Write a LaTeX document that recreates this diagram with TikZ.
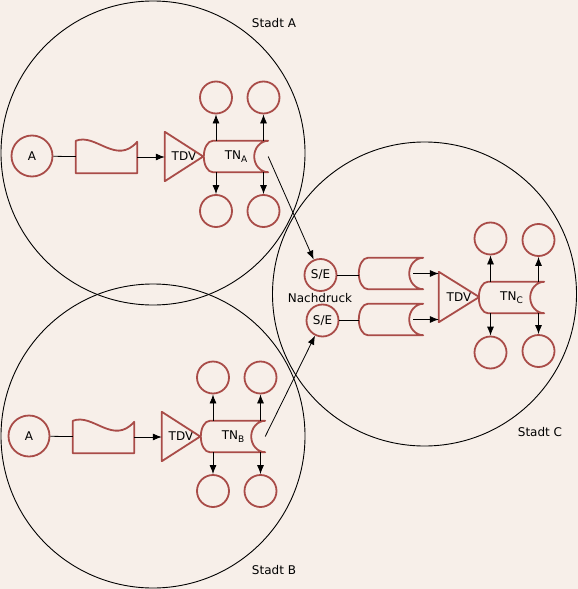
\documentclass[tikz,border=0pt]{standalone}
\usepackage{fontspec}
\setmainfont{DejaVu Sans}
\usepackage{tikz}
\usetikzlibrary{arrows.meta,positioning}
\definecolor{bgpeach}{HTML}{F7EFE9}
\definecolor{tnred}{HTML}{A94C48}

% outlines drawn round plain (invisible) nodes
\newcommand{\tnshape}[1]{%
  \draw[tnline] ([xshift=9pt]#1.north west) .. controls +(-5,0) and +(0,-8.6) .. (#1.west)
    .. controls +(0,8.6) and +(-5,0) .. ([xshift=9pt]#1.south west) -- (#1.south east)
    .. controls +(-7.7,0) and +(0,8.6) .. ([xshift=-14pt]#1.east)
    .. controls +(0,-8.6) and +(-7.7,0) .. (#1.north east) -- cycle;}
\newcommand{\docshape}[1]{%
  \draw[tnline] (#1.north west) .. controls +(20,-8) and +(-21,24) .. ([yshift=-1pt]#1.north east)
    -- (#1.south east) -- (#1.south west) -- cycle;}
\newcommand{\tdvshape}[1]{%
  \draw[tnline] (#1.north west) -- (#1.east) -- (#1.south west) -- cycle;}
\newcommand{\tnsub}[1]{\raisebox{-3pt}{\fontsize{9}{9}\selectfont #1}}

\begin{document}
\begin{tikzpicture}[x=1pt, y=-1pt,
  every node/.style={font=\fontsize{12}{14}\selectfont, inner sep=0pt},
  city/.style={draw, circle, line width=0.9pt, minimum size=304pt},
  tnline/.style={draw=tnred, line width=1.8pt, line join=round},
  ring/.style={draw=tnred, circle, line width=1.8pt, minimum size=32pt},
  src/.style={ring, minimum size=41pt},
  tnbox/.style={minimum width=64pt, minimum height=31pt},
  docbox/.style={minimum width=61pt, minimum height=32pt},
  tdvbox/.style={minimum width=38pt, minimum height=49pt},
  link/.style={line width=0.8pt},
  flow/.style={link, -{Latex[length=9pt,width=7pt]}}]
  \fill[bgpeach] (0,0) rectangle (578,589);
  \useasboundingbox (0,0) rectangle (578,589);

  % the three towns
  \node[city] (cityA) at (153,153) {};
  \node[city] (cityB) at (153,436) {};
  \node[city] (cityC) at (424.5,294) {};
  \node (labA) at (274,23) {Stadt A};
  \node (labB) at (274,570) {Stadt B};
  \node (labC) at (540,432) {Stadt C};

  % towns A and B: source, document, TDV, TN and four outputs
  \foreach \r/\dx/\dy in {A/0/0, B/-3/280} {
    \begin{scope}[shift={(\dx,\dy)}]
      \node[src] (src\r) at (32,156) {A};
      \node[docbox] (doc\r) at (106.5,157) {};
      \node[tdvbox] (tdv\r) at (184,156.5) {TDV};
      \node[tnbox] (tn\r) at (236,156.5) {TN\tnsub{\r}};
      \node[ring] (o\r1) at (216,97.5) {};
      \node[ring] (o\r2) at (263.5,97.5) {};
      \node[ring] (o\r3) at (216,211) {};
      \node[ring] (o\r4) at (263.5,211) {};
    \end{scope}
    \docshape{doc\r}
    \tdvshape{tdv\r}
    \tnshape{tn\r}
    \draw[link] (src\r) -- (doc\r);
    \draw[flow] (doc\r.east) -- (doc\r.east -| tdv\r.west);
    \foreach \o in {1,2} \draw[flow] (o\r\o |- tn\r.north) -- (o\r\o.south);
    \foreach \o in {3,4} \draw[flow] (o\r\o |- tn\r.south) -- (o\r\o.north);
  }

  % town C: reprint
  \node[ring] (seC1) at (320.5,275) {S/E};
  \node[ring] (seC2) at (322.5,320.5) {S/E};
  \node (reprint) at (320,298) {Nachdruck};
  \node[tnbox] (sdC1) at (391,273.5) {};
  \node[tnbox] (sdC2) at (391,319.5) {};
  \node[tdvbox, minimum width=40pt, minimum height=50pt] (tdvC) at (459,297) {TDV};
  \node[tnbox, minimum width=65pt] (tnC) at (511.5,297.5) {TN\tnsub{C}};
  \node[ring] (oC1) at (490.5,238.5) {};
  \node[ring] (oC2) at (538.5,240) {};
  \node[ring] (oC3) at (490.5,352.5) {};
  \node[ring] (oC4) at (538.5,351) {};
  \tnshape{sdC1}
  \tnshape{sdC2}
  \tdvshape{tdvC}
  \tnshape{tnC}
  \draw[link] (seC1) -- (seC1 -| sdC1.west);
  \draw[link] (seC2) -- (seC2 -| sdC2.west);
  \draw[flow] ([xshift=-10pt]sdC1.east) -- (sdC1.east -| tdvC.west);
  \draw[flow] ([xshift=-10pt]sdC2.east) -- (sdC2.east -| tdvC.west);
  \foreach \o in {1,2} \draw[flow] (oC\o |- tnC.north) -- (oC\o.south);
  \foreach \o in {3,4} \draw[flow] (oC\o |- tnC.south) -- (oC\o.north);

  % links between the towns
  \draw[flow] (tnA.east) -- (seC1);
  \draw[flow] (tnB.east) -- (seC2);
\end{tikzpicture}
\end{document}
